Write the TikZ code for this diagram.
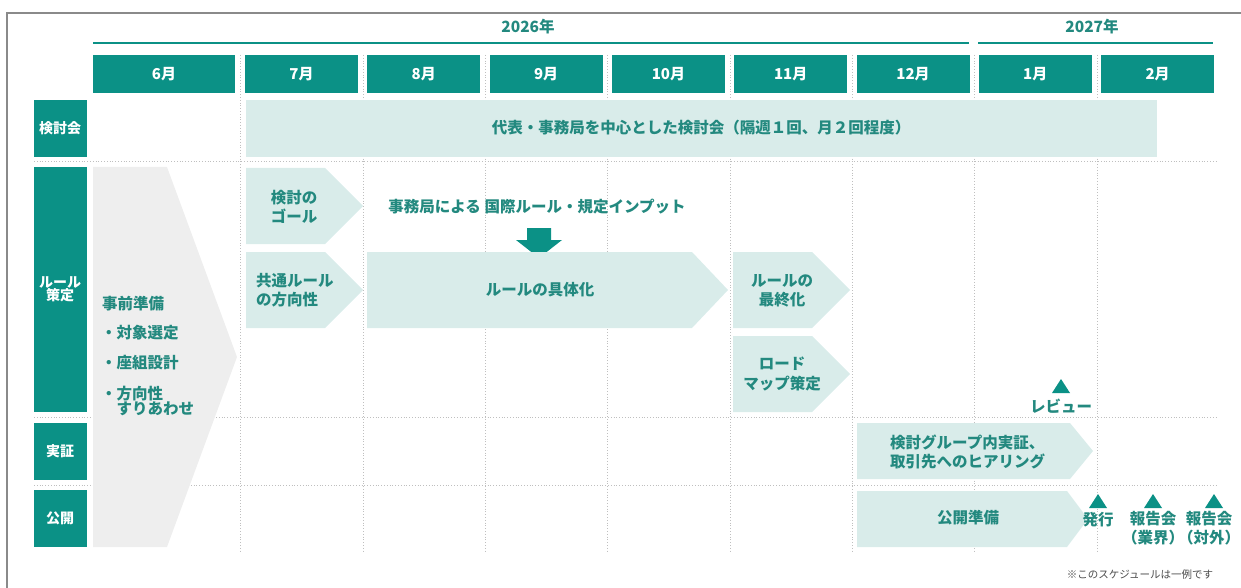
\documentclass[tikz,border=0pt]{standalone}
\usepackage{fontspec}
\setmainfont{Noto Sans CJK JP}
\usetikzlibrary{arrows.meta}
\definecolor{tealbox}{HTML}{0B9186}
\definecolor{tealtext}{HTML}{23897F}
\definecolor{tealpale}{HTML}{D9ECEA}
\definecolor{graypale}{HTML}{EEEEEE}
\definecolor{framegray}{HTML}{8A8A8A}
\tikzset{month/.style = {fill=tealbox, text=white, minimum width=113pt, minimum height=38pt, inner sep=0pt, font=\bfseries\fontsize{15}{17}\selectfont}}
\tikzset{rowlabel/.style = {fill=tealbox, text=white, minimum width=53pt, inner sep=0pt, align=center, font=\bfseries\fontsize{14}{16}\selectfont}}
\tikzset{lbl/.style = {text=tealtext, inner sep=0pt, font=\bfseries\fontsize{15.5}{19.5}\selectfont}}
\tikzset{gridline/.style = {gray!50, dotted, line width=0.8pt}}
% light chevron: x0, top, body end, tip, bottom
\newcommand{\chev}[5]{\fill[tealpale] (#1,#2) -- (#3,#2) -- (#4,{(#2+#5)/2}) -- (#3,#5) -- (#1,#5) -- cycle;}
% milestone triangle: centre x, top y
\newcommand{\mile}[2]{\fill[tealbox] ({#1-9},{#2+14}) -- ({#1+9},{#2+14}) -- (#1,#2) -- cycle;}

\begin{document}
\begin{tikzpicture}[x=1pt, y=-1pt]
    \useasboundingbox (0,0) rectangle (1241,588);
    \draw[framegray, line width=2pt] (7,588) -- (7,13) -- (1241,13);

    % years
    \node[lbl] (y26) at (528,27) {2026年};
    \node[lbl] (y27) at (1092,27) {2027年};
    \draw[tealbox, line width=2.5pt] (93,43) -- (969,43);
    \draw[tealbox, line width=2.5pt] (978,43) -- (1213,43);

    % grid
    \foreach \x in {240, 363, 485, 607, 730, 852, 974, 1097}
        \draw[gridline] (\x,55) -- (\x,552);
    \foreach \y in {161, 417, 485}
        \draw[gridline] (34,\y) -- (1218,\y);

    % months
    \node[month, minimum width=142pt] (m6) at (164,74) {6月};
    \node[month] (m7)  at (301.5,74)  {7月};
    \node[month] (m8)  at (423.8,74)  {8月};
    \node[month] (m9)  at (546.1,74)  {9月};
    \node[month] (m10) at (668.4,74)  {10月};
    \node[month] (m11) at (790.7,74)  {11月};
    \node[month] (m12) at (913.0,74)  {12月};
    \node[month] (m1)  at (1035.3,74) {1月};
    \node[month] (m2)  at (1157.6,74) {2月};

    % row labels
    \node[rowlabel, minimum height=57pt]  (kentou) at (60,128.5) {検討会};
    \node[rowlabel, minimum height=245pt] (rule)   at (60,289.5) {ルール\\[-3pt]策定};
    \node[rowlabel, minimum height=57pt]  (jissho) at (60,451.5) {実証};
    \node[rowlabel, minimum height=57pt]  (kokai)  at (60,518.5) {公開};

    % meeting bar
    \fill[tealpale] (246,100) rectangle (1157,157);
    \node[lbl] (meeting) at (701,128) {代表・事務局を中心とした検討会（隔週１回、月２回程度）};

    % preparation
    \fill[graypale] (93,167) -- (167,167) -- (237,357) -- (167,547) -- (93,547) -- cycle;
    \node[lbl, anchor=west] (prep) at (102,304) {事前準備};
    \node[lbl, anchor=west] (prep1) at (101,333) {・対象選定};
    \node[lbl, anchor=west] (prep2) at (101,363) {・座組設計};
    \node[lbl, anchor=north west, align=left, font=\bfseries\fontsize{15.5}{14}\selectfont] (prep3) at (101,386) {・方向性\\\phantom{・}すりあわせ};

    % rule making
    \chev{246}{168}{325}{363}{244}
    \node[lbl, align=center] (goal) at (294,207) {検討の\\ゴール};
    \chev{246}{252}{325}{363}{328}
    \node[lbl, align=left, anchor=west] (common) at (256,290) {共通ルール\\の方向性};
    \node[lbl] (input) at (537,207) {事務局による 国際ルール・規定インプット};
    \fill[tealbox] (527,228) -- (551,228) -- (551,240) -- (562,240) -- (539,258) -- (516,240) -- (527,240) -- cycle;
    \chev{367}{252}{692}{728}{328}
    \node[lbl] (concrete) at (540,290) {ルールの具体化};
    \chev{733}{252}{812}{850}{328}
    \node[lbl, align=center] (final) at (782,291) {ルールの\\最終化};
    \chev{733}{336}{812}{850}{412}
    \node[lbl, align=center] (roadmap) at (782,374) {ロード\\マップ策定};
    \mile{1061}{379}
    \node[lbl] (review) at (1061,406) {レビュー};

    % verification
    \chev{857}{423}{1070}{1093}{479}
    \node[lbl, align=left, anchor=west] (verify) at (890,452) {検討グループ内実証、\\取引先へのヒアリング};

    % publication
    \chev{857}{491}{1067}{1088}{547}
    \node[lbl] (publish) at (968,518) {公開準備};
    \mile{1098}{494}
    \node[lbl] (issue) at (1098,520) {発行};
    \mile{1153}{494}
    \node[lbl, align=center, anchor=north] (rep1) at (1153,511) {報告会\\（業界）};
    \mile{1214}{494}
    \node[lbl, align=center, anchor=north] (rep2) at (1209,511) {報告会\\（対外）};

    \node[text=black!70, inner sep=0pt, font=\fontsize{10.5}{12}\selectfont] (note) at (1140,575) {※このスケジュールは一例です};
\end{tikzpicture}
\end{document}
